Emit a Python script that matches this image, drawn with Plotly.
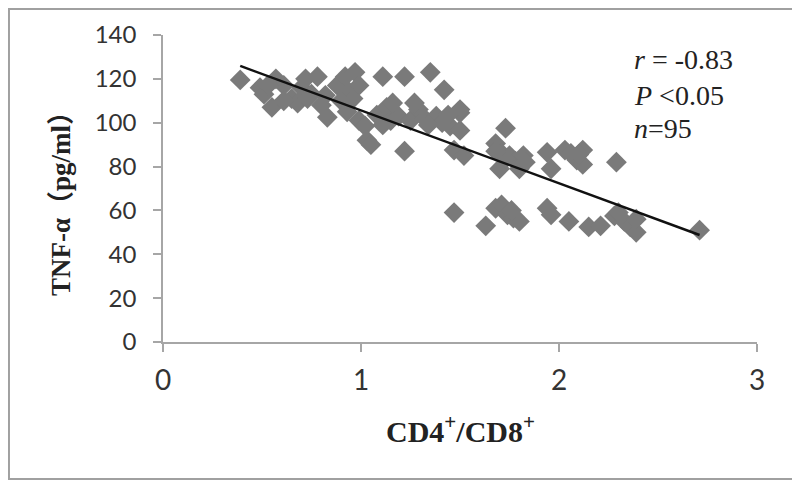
import plotly.graph_objects as go

# CD4+/CD8+ ratio (x) and TNF-alpha pg/ml (y)
cd4_cd8 = [0.39, 0.49, 0.51, 0.55, 0.57, 0.61, 0.65, 0.68, 0.70, 0.72,
           0.75, 0.78, 0.80, 0.83, 0.73, 0.88, 0.92, 0.94, 0.97, 0.99,
           0.96, 0.99, 1.02, 1.03, 1.05, 1.08, 1.11, 1.13, 1.15, 1.19,
           1.22, 1.22, 1.25, 1.29, 1.32, 1.35, 1.38, 1.41, 1.42, 1.45,
           1.47, 1.47, 1.50, 1.50, 1.52, 1.68, 1.70, 1.71, 1.73, 1.75,
           1.78, 1.80, 1.82, 1.68, 1.71, 1.74, 1.77, 1.80, 1.63, 1.94,
           1.96, 1.94, 1.96, 2.03, 2.06, 2.09, 2.12, 2.12, 2.05, 2.15,
           2.21, 2.29, 2.28, 2.33, 2.36, 2.39, 2.39, 2.71, 0.61, 0.53,
           0.90, 0.93, 0.82, 1.16, 1.27, 1.34, 1.11, 1.50, 1.73, 1.68,
           1.76, 2.10, 1.83, 2.30, 1.44]
tnf_alpha = [119.5, 116, 113, 107, 120, 117, 111, 109, 116, 120,
             113, 121, 108, 102.5, 111, 117, 121, 114, 123, 117,
             111, 101, 98.5, 92, 90, 103.5, 121, 107, 101, 103,
             121, 87, 101, 106, 102, 123, 103, 100, 115, 98.5,
             87.5, 59, 104.5, 96.5, 85, 90.5, 79, 86, 97.5, 85,
             82.5, 79, 85, 61, 62.5, 58, 56.5, 55, 53, 86.5,
             79, 61, 58, 87.5, 86, 83, 87.5, 81, 55, 52.5,
             53, 82, 57.5, 55, 52.5, 50, 56, 51, 110, 117,
             110, 105, 112.5, 109, 109, 99, 99, 106, 83.5, 87,
             60, 85.5, 82, 59, 103.5]

# linear trend line end points
trend_x = [0.39, 2.71]
trend_y = [125.9, 48.8]

x_ticks = [0, 1, 2, 3]
y_ticks = [0, 20, 40, 60, 80, 100, 120, 140]

stats_text = ["<i>r</i> = -0.83", "<i>P</i> &lt;0.05", "<i>n</i>=95"]
stats_y = [129, 112.5, 97.5]

x_title = "<b>CD4<sup>+</sup>/CD8<sup>+</sup></b>"
y_title = "<b>TNF-α（pg/ml）</b>"

fig = go.Figure()
fig.add_trace(go.Scatter(
    x=cd4_cd8, y=tnf_alpha, mode="markers",
    marker=dict(symbol="diamond", size=16, color="#7a7a7a", line=dict(width=0)),
    showlegend=False, hoverinfo="skip"))
fig.add_trace(go.Scatter(
    x=trend_x, y=trend_y, mode="lines",
    line=dict(color="#111111", width=2.5),
    showlegend=False, hoverinfo="skip"))

axis_color = "#a6a6a6"
serif = "Liberation Serif, Noto Sans CJK SC"
fig.update_layout(
    width=800, height=482,
    margin=dict(l=155, r=51, t=27, b=148),
    paper_bgcolor="white", plot_bgcolor="white",
    font=dict(family="Lato", size=24, color="#333333"),
    xaxis=dict(range=[0, 3], tickvals=x_ticks, showgrid=False, zeroline=False,
               showline=True, linecolor=axis_color, linewidth=1.5,
               ticks="outside", ticklen=8, tickcolor=axis_color, tickwidth=1.5,
               ticklabelstandoff=5, tickfont=dict(size=28)),
    yaxis=dict(range=[0, 140], tickvals=y_ticks, showgrid=False, zeroline=False,
               showline=True, linecolor=axis_color, linewidth=1.5,
               ticks="outside", ticklen=8, tickcolor=axis_color, tickwidth=1.5,
               ticklabelstandoff=12, tickfont=dict(size=24)),
    shapes=[dict(type="rect", xref="paper", yref="paper",
                 x0=-0.2593, x1=1.0673, y0=-0.4463, y1=1.0847,
                 line=dict(color="#a0a0a0", width=2))],
)

fig.add_annotation(x=0.5, y=-0.2834, xref="paper", yref="paper", text=x_title,
                   showarrow=False, xanchor="center", yanchor="middle",
                   font=dict(family=serif, size=30, color="#222222"))
fig.add_annotation(x=-0.1717, y=0.4723, xref="paper", yref="paper", text=y_title,
                   showarrow=False, xanchor="center", yanchor="middle", textangle=-90,
                   font=dict(family=serif, size=27, color="#222222"))

for txt, yv in zip(stats_text, stats_y):
    fig.add_annotation(x=2.37, y=yv, xref="x", yref="y", text=txt,
                       showarrow=False, xanchor="left", yanchor="middle",
                       font=dict(family="Liberation Serif", size=28, color="#222222"))

fig.write_html("out.html")
